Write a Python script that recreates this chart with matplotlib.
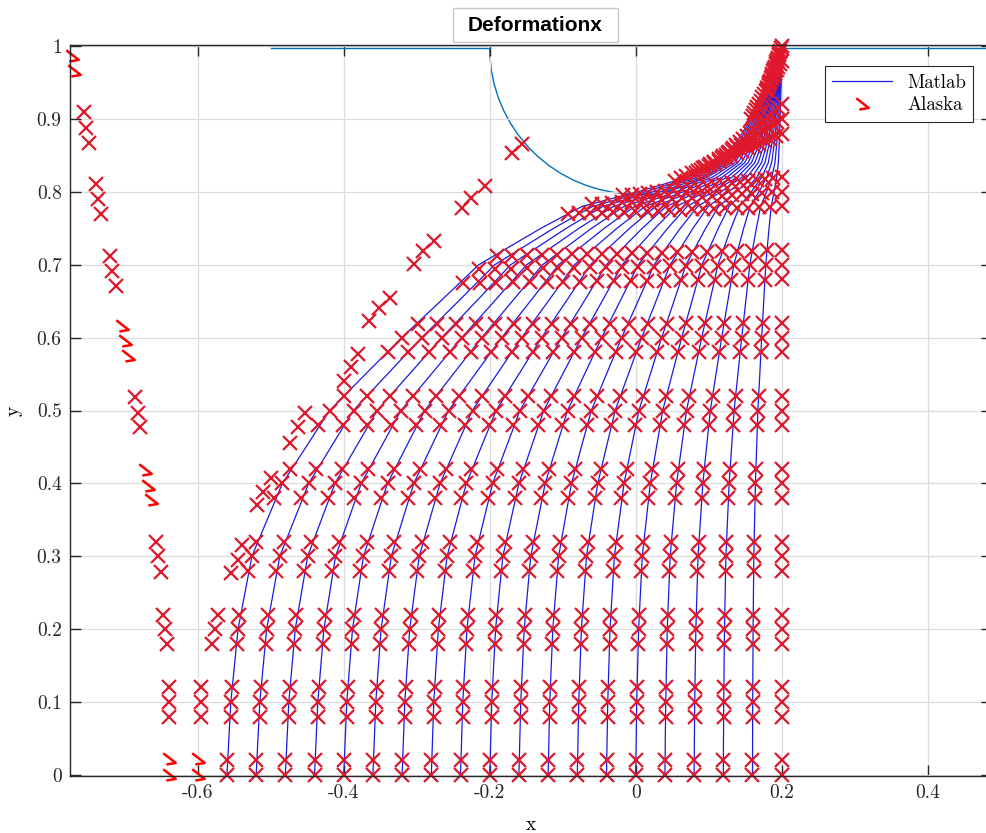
import numpy as np
import matplotlib
matplotlib.use("Agg")
import matplotlib.pyplot as plt
from matplotlib.patches import Arc, Rectangle
from matplotlib.path import Path

plt.rcParams['font.family'] = ['cmr10', 'DejaVu Serif']
plt.rcParams['axes.unicode_minus'] = False

# undeformed columns of the mesh (right edge stays fixed at x = 0.2)
col_x0 = [-0.56, -0.52, -0.48, -0.44, -0.40, -0.36, -0.32, -0.28, -0.24, -0.20,
          -0.16, -0.12, -0.08, -0.04, 0.0, 0.04, 0.08, 0.12, 0.16, 0.20]
curve_x0 = col_x0[:-1]

# Matlab curves: fraction of the width left at each height
curve_y = [0, 0.1, 0.2, 0.3, 0.4, 0.5, 0.55, 0.6, 0.65, 0.7, 0.75, 0.78, 0.8, 0.82, 0.84,
           0.87, 0.9, 0.95, 1.0]
curve_squeeze = [1.0, 0.993, 0.98, 0.955, 0.90, 0.815, 0.75, 0.685, 0.615, 0.546, 0.434, 0.36,
                 0.26, 0.17, 0.115, 0.08, 0.055, 0.018, 0.0]

# Alaska nodes: undeformed rows, and where the outermost column (x0 = -0.56) ends up
row_y = [0, 0.02, 0.08, 0.10, 0.12, 0.18, 0.20, 0.22, 0.28, 0.30, 0.32, 0.38, 0.40, 0.42,
         0.48, 0.50, 0.52, 0.58, 0.60, 0.62, 0.68, 0.70, 0.72, 0.78, 0.80, 0.82,
         0.88, 0.90, 0.92, 0.98, 1.0]
outer_x = [-0.56, -0.56, -0.555, -0.555, -0.553, -0.546, -0.545, -0.543, -0.531, -0.526, -0.52,
           -0.495, -0.484, -0.473, -0.435, -0.419, -0.40, -0.34, -0.32, -0.298,
           -0.237, -0.215, -0.19, -0.093, -0.06, -0.017, 0.054, 0.083, 0.109, 0.158, 0.18]
outer_y = [0, 0.02, 0.08, 0.10, 0.12, 0.18, 0.20, 0.22, 0.28, 0.30, 0.32, 0.38, 0.40, 0.42,
           0.48, 0.50, 0.52, 0.58, 0.60, 0.618, 0.675, 0.694, 0.712, 0.77, 0.783, 0.795,
           0.815, 0.826, 0.838, 0.90, 0.94]

# two outer columns of Alaska nodes (x0 = -0.64 and -0.6)
left_a_x = [-0.64, -0.64, -0.639, -0.64, -0.639, -0.642, -0.645, -0.647, -0.65, -0.654, -0.657,
            -0.664, -0.668, -0.672, -0.679, -0.682, -0.686, -0.696, -0.699, -0.704,
            -0.712, -0.717, -0.72, -0.732, -0.736, -0.74, -0.749, -0.753, -0.756, -0.77, -0.772]
left_a_y = [0.0, 0.022, 0.08, 0.10, 0.12, 0.18, 0.20, 0.22, 0.279, 0.30, 0.32,
            0.377, 0.397, 0.418, 0.477, 0.497, 0.518, 0.575, 0.596, 0.616,
            0.671, 0.692, 0.712, 0.77, 0.79, 0.811, 0.867, 0.888, 0.91, 0.966, 0.986]
left_a_odd = [1, 1, 0, 0, 0, 0, 0, 0, 0, 0, 0, 1, 1, 1, 0, 0, 0, 1, 1, 1,
              0, 0, 0, 0, 0, 0, 0, 0, 0, 1, 1]
left_b_x = [-0.6, -0.6, -0.595, -0.595, -0.596, -0.581, -0.577, -0.572, -0.555, -0.545, -0.54,
            -0.519, -0.51, -0.50, -0.473, -0.462, -0.453, -0.40, -0.39, -0.38,
            -0.366, -0.351, -0.337, -0.304, -0.292, -0.277, -0.238, -0.225, -0.207, -0.17, -0.156]
left_b_y = [0.0, 0.022, 0.08, 0.10, 0.12, 0.18, 0.20, 0.22, 0.277, 0.295, 0.315,
            0.37, 0.388, 0.407, 0.456, 0.477, 0.496, 0.541, 0.56, 0.578,
            0.623, 0.641, 0.655, 0.701, 0.719, 0.733, 0.778, 0.792, 0.808, 0.853, 0.866]
left_b_odd = [1, 1] + [0] * 29

# reference outline: flat lid at y = 1 with a half circle cut out
lid_left = [-0.5, -0.2]
lid_right = [0.2, 0.5]
lid_y = 0.997
hole_centre = (0.0, 0.997)
hole_radius = 0.2

odd = Path([(-1, 1), (1, -0.55), (-0.5, -0.8)], [Path.MOVETO, Path.LINETO, Path.LINETO])
red_x = dict(ls='none', marker='x', ms=9.5, mew=1.6, color='#e0182c', clip_on=False)
red_odd = dict(ls='none', marker=odd, ms=9, mew=1.8, color='#ff0000', mfc='none', clip_on=False)

fig = plt.figure(figsize=(9.86, 8.33), dpi=100)
ax = fig.add_axes([0.071, 0.0684, 0.935, 0.8776])

ax.plot(lid_left, [lid_y, lid_y], color='#0072BD', lw=1)
ax.plot(lid_right, [lid_y, lid_y], color='#0072BD', lw=1)
ax.add_patch(Arc(hole_centre, 2 * hole_radius, 2 * hole_radius, theta1=180, theta2=360,
                 color='#0072BD', lw=1))

cy = np.array(curve_y)
for i, x0 in enumerate(curve_x0):
    cx = 0.2 + (x0 - 0.2) * np.array(curve_squeeze)
    ax.plot(cx, cy, color='#1a1ae0', lw=0.9, label='Matlab' if i == 0 else None)

# Alaska nodes: each column sits between the fixed right edge and the outer column
ry = np.array(row_y)
ox, oy = np.array(outer_x), np.array(outer_y)
for x0 in col_x0:
    f = (0.2 - x0) / 0.76
    ax.plot(0.2 + (ox - 0.2) * f, ry + (oy - ry) * f, **red_x)
for xs, ys, fl in [(left_a_x, left_a_y, left_a_odd), (left_b_x, left_b_y, left_b_odd)]:
    xs, ys, fl = np.array(xs), np.array(ys), np.array(fl, bool)
    ax.plot(xs[~fl], ys[~fl], **red_x)
    ax.plot(xs[fl], ys[fl], **red_odd)
ax.plot([], [], label='Alaska', **red_odd)

ax.set_xlim(-0.775, 0.488)
ax.set_ylim(-0.0015, 1.0015)
ax.set_xticks([-0.6, -0.4, -0.2, 0, 0.2, 0.4])
ax.set_xticklabels(['-0.6', '-0.4', '-0.2', '0', '0.2', '0.4'])
ax.set_yticks([0, 0.1, 0.2, 0.3, 0.4, 0.5, 0.6, 0.7, 0.8, 0.9, 1])
ax.set_yticklabels(['0', '0.1', '0.2', '0.3', '0.4', '0.5', '0.6', '0.7', '0.8', '0.9', '1'])
ax.tick_params(direction='in', length=8, width=1, top=True, right=True,
               labelsize=14, colors='#262626', pad=6)
ax.grid(True, color='#dcdcdc', lw=0.9)
for s in ax.spines.values():
    s.set_color('#262626')
    s.set_linewidth(1)
ax.set_xlabel('x', fontsize=14, labelpad=10)
ax.set_ylabel('y', fontsize=14, labelpad=10)

leg = ax.legend(loc='upper right', bbox_to_anchor=(0.98, 0.971), borderaxespad=0, fontsize=13.5,
                frameon=True, fancybox=False, edgecolor='#262626', framealpha=1, borderpad=0.4,
                handlelength=3.2, labelspacing=0.25)
leg.get_frame().set_linewidth(0.8)

fig.patches.append(Rectangle((0.4594, 0.9496), 0.1674, 0.0406, transform=fig.transFigure,
                             fc='white', ec='#c8c8c8', lw=1))
fig.text(0.5431, 0.9695, 'Deformationx', fontsize=15, fontweight='bold', family='Liberation Sans',
         ha='center', va='center')

fig.savefig('out.png', dpi=100)
